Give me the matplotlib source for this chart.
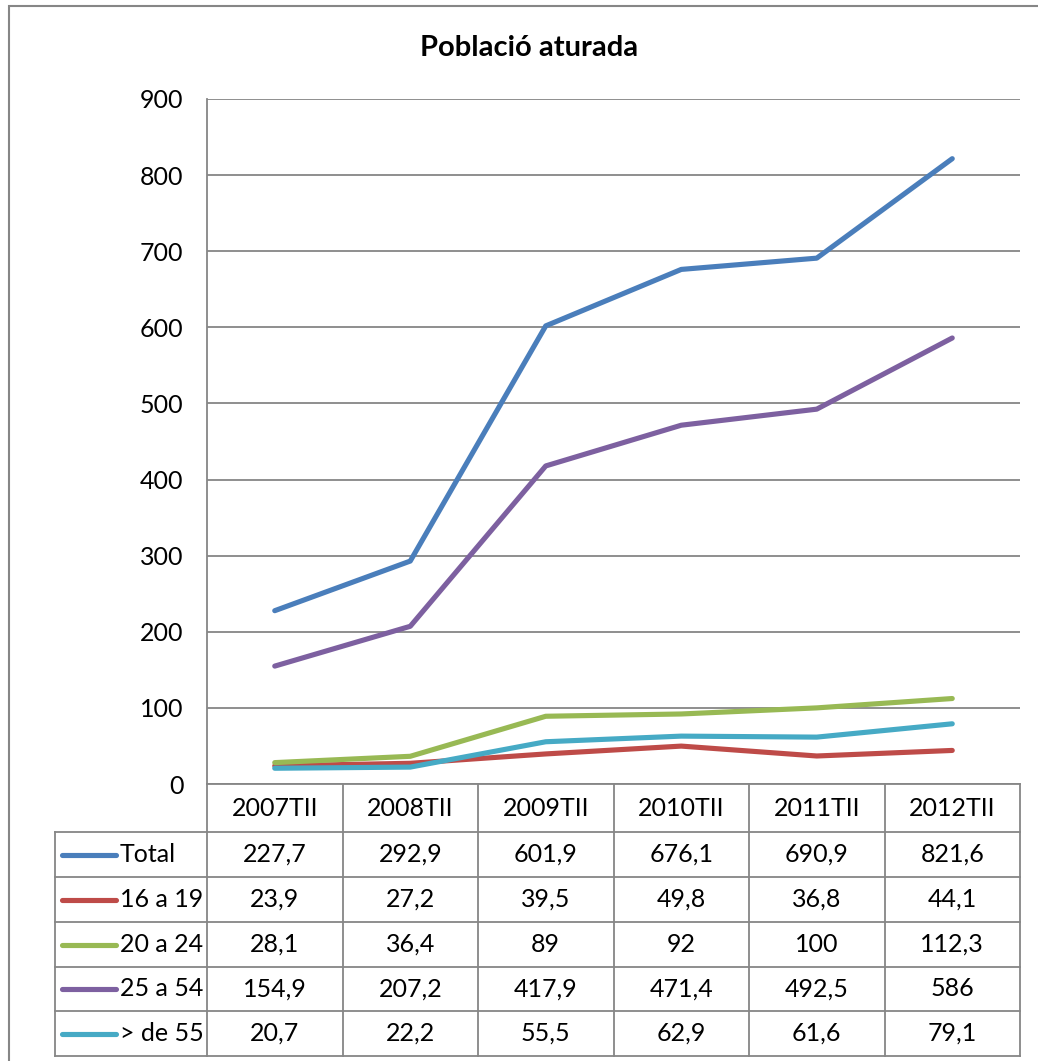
import numpy as np
import matplotlib.pyplot as plt
from matplotlib.patches import Rectangle
from matplotlib.lines import Line2D

plt.rcParams['font.family'] = ['Lato', 'DejaVu Sans']

# Data
periods = ['2007TII', '2008TII', '2009TII', '2010TII', '2011TII', '2012TII']
series_names = ['Total', '16 a 19', '20 a 24', '25 a 54', '> de 55']
total = [227.7, 292.9, 601.9, 676.1, 690.9, 821.6]
age_16_19 = [23.9, 27.2, 39.5, 49.8, 36.8, 44.1]
age_20_24 = [28.1, 36.4, 89, 92, 100, 112.3]
age_25_54 = [154.9, 207.2, 417.9, 471.4, 492.5, 586]
age_55 = [20.7, 22.2, 55.5, 62.9, 61.6, 79.1]
colors = ['#4A7EBB', '#BE4B48', '#98B954', '#7D60A0', '#46AAC5']

W, H = 1038, 1061
fig = plt.figure(figsize=(W / 100, H / 100), dpi=100)
fs = 18

# plot area in pixels
left, right, top, bottom = 207, 1020, 99, 784
ax = fig.add_axes([left / W, 1 - bottom / H, (right - left) / W, (bottom - top) / H])

grid_col = '#868686'
x = np.arange(len(periods))
all_series = [total, age_16_19, age_20_24, age_25_54, age_55]
for vals, c in zip(all_series, colors):
    ax.plot(x, vals, color=c, lw=3.7, solid_capstyle='round', zorder=3)

ax.set_xlim(-0.5, len(periods) - 0.5)
ax.set_ylim(0, 900)
ax.set_yticks(range(0, 901, 100))
ax.set_xticks([])
ax.tick_params(axis='y', length=0, pad=17, labelsize=fs)
ax.yaxis.grid(True, color=grid_col, lw=1.3)
ax.set_axisbelow(True)
for s in ['top', 'right', 'bottom']:
    ax.spines[s].set_visible(False)
ax.spines['left'].set_color(grid_col)
ax.spines['left'].set_linewidth(1.3)

fig.text(529 / W, 1 - 48 / H, 'Població aturada', ha='center', va='center',
         fontsize=21, fontweight='bold')

# data table (pixel coordinates converted to figure fractions)
def fx(px):
    return px / W

def fy(py):
    return 1 - py / H

row_edges = [784, 832, 877, 922, 967, 1011, 1056]
col_w = (right - left) / len(periods)
col_edges = [left + i * col_w for i in range(len(periods) + 1)]
leg_left = 55
lkw = dict(color=grid_col, lw=1.3, transform=fig.transFigure)

# horizontal lines
fig.add_artist(Line2D([fx(left), fx(right)], [fy(row_edges[0])] * 2, **lkw))
for r in row_edges[1:]:
    fig.add_artist(Line2D([fx(leg_left), fx(right)], [fy(r)] * 2, **lkw))
# vertical lines
for c in col_edges:
    fig.add_artist(Line2D([fx(c)] * 2, [fy(row_edges[0]), fy(row_edges[-1])], **lkw))
fig.add_artist(Line2D([fx(leg_left)] * 2, [fy(row_edges[1]), fy(row_edges[-1])], **lkw))

# header
for i, p in enumerate(periods):
    cx = (col_edges[i] + col_edges[i + 1]) / 2
    fig.text(fx(cx), fy((row_edges[0] + row_edges[1]) / 2), p,
             ha='center', va='center', fontsize=fs)

def fmt(v):
    s = ('%.1f' % v).rstrip('0').rstrip('.')
    return s.replace('.', ',')

for j, (name, vals, c) in enumerate(zip(series_names, all_series, colors)):
    cy = (row_edges[j + 1] + row_edges[j + 2]) / 2
    fig.add_artist(Line2D([fx(62), fx(116)], [fy(cy)] * 2, color=c, lw=3.7,
                          solid_capstyle='round', transform=fig.transFigure))
    fig.text(fx(120), fy(cy), name, ha='left', va='center', fontsize=fs)
    for i, v in enumerate(vals):
        cx = (col_edges[i] + col_edges[i + 1]) / 2
        fig.text(fx(cx), fy(cy), fmt(v), ha='center', va='center', fontsize=fs)

# chart area border
fig.add_artist(Rectangle((fx(9), fy(1080)), fx(1060) - fx(9), fy(6) - fy(1080),
                         fill=False, edgecolor=grid_col, lw=1.5,
                         transform=fig.transFigure))

fig.savefig('out.png', dpi=100)
